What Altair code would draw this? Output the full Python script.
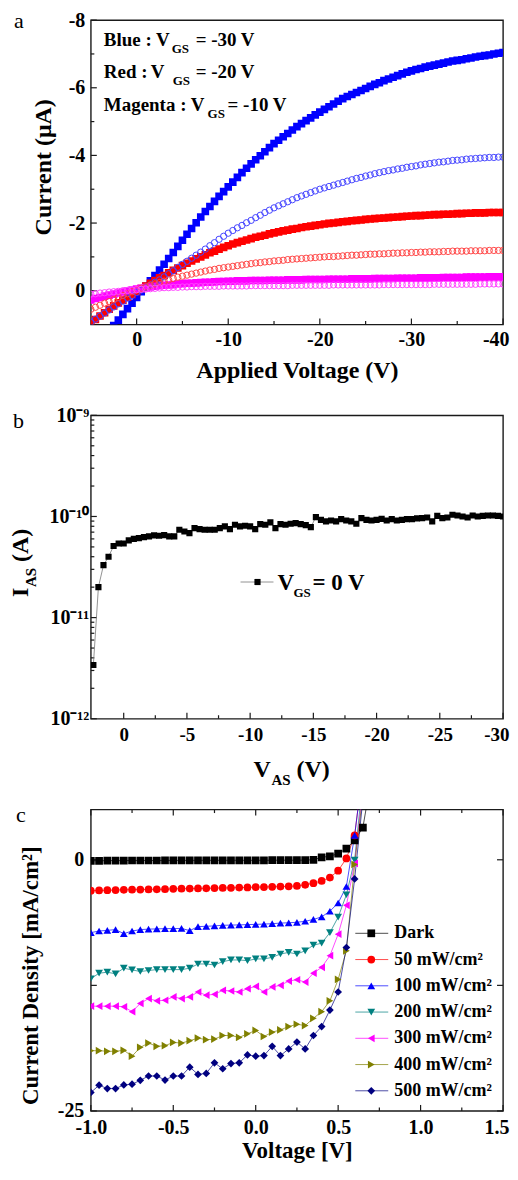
import altair as alt
import pandas as pd

FONT = "Liberation Serif"
INK = "#1a1a1a"

# ======================= Panel a data =======================
a_voltage = [round(5.0 - 0.5 * i, 1) for i in range(91)]  # 5 V ... -40 V

a_blue_filled = [
    1.90, 1.72, 1.55, 1.38, 1.20, 1.03, 0.87, 0.70, 0.53, 0.37,
    0.20, 0.03, -0.13, -0.29, -0.45, -0.61, -0.78, -0.95, -1.13, -1.31,
    -1.49, -1.67, -1.84, -2.01, -2.18, -2.34, -2.49, -2.64, -2.79, -2.93,
    -3.07, -3.21, -3.35, -3.49, -3.62, -3.75, -3.87, -3.99, -4.11, -4.23,
    -4.35, -4.45, -4.55, -4.65, -4.75, -4.85, -4.94, -5.03, -5.11, -5.20,
    -5.28, -5.36, -5.44, -5.52, -5.60, -5.68, -5.74, -5.80, -5.86, -5.92,
    -5.98, -6.04, -6.10, -6.15, -6.21, -6.26, -6.31, -6.36, -6.41, -6.46,
    -6.50, -6.54, -6.57, -6.61, -6.64, -6.67, -6.70, -6.73, -6.76, -6.79,
    -6.81, -6.83, -6.86, -6.88, -6.91, -6.93, -6.95, -6.97, -7.00, -7.02,
    -7.04]
a_blue_open = [
    0.93, 0.84, 0.75, 0.66, 0.57, 0.48, 0.39, 0.31, 0.22, 0.14,
    0.05, -0.02, -0.10, -0.17, -0.25, -0.32, -0.41, -0.50, -0.59, -0.69,
    -0.78, -0.87, -0.96, -1.05, -1.14, -1.23, -1.33, -1.42, -1.52, -1.61,
    -1.70, -1.78, -1.86, -1.93, -2.01, -2.08, -2.16, -2.23, -2.31, -2.38,
    -2.45, -2.51, -2.57, -2.63, -2.69, -2.75, -2.80, -2.85, -2.90, -2.95,
    -3.00, -3.04, -3.08, -3.12, -3.16, -3.20, -3.24, -3.28, -3.32, -3.35,
    -3.39, -3.42, -3.46, -3.49, -3.52, -3.55, -3.57, -3.60, -3.62, -3.65,
    -3.67, -3.69, -3.72, -3.74, -3.76, -3.78, -3.80, -3.81, -3.83, -3.85,
    -3.86, -3.87, -3.89, -3.90, -3.91, -3.92, -3.93, -3.94, -3.94, -3.95,
    -3.95]
a_red_filled = [
    0.95, 0.85, 0.75, 0.65, 0.55, 0.45, 0.36, 0.28, 0.19, 0.11,
    0.02, -0.06, -0.14, -0.22, -0.30, -0.38, -0.45, -0.53, -0.60, -0.67,
    -0.74, -0.81, -0.88, -0.94, -1.00, -1.06, -1.12, -1.17, -1.23, -1.28,
    -1.33, -1.38, -1.42, -1.46, -1.50, -1.54, -1.58, -1.61, -1.64, -1.68,
    -1.71, -1.74, -1.77, -1.79, -1.82, -1.84, -1.87, -1.89, -1.91, -1.93,
    -1.95, -1.97, -1.99, -2.00, -2.02, -2.04, -2.05, -2.07, -2.08, -2.09,
    -2.11, -2.12, -2.13, -2.14, -2.15, -2.16, -2.17, -2.18, -2.19, -2.20,
    -2.21, -2.22, -2.22, -2.23, -2.24, -2.25, -2.25, -2.26, -2.26, -2.27,
    -2.28, -2.28, -2.29, -2.29, -2.30, -2.30, -2.30, -2.31, -2.31, -2.31,
    -2.31]
a_red_open = [
    0.55, 0.49, 0.43, 0.37, 0.32, 0.26, 0.20, 0.14, 0.09, 0.03,
    -0.02, -0.07, -0.11, -0.16, -0.20, -0.24, -0.28, -0.32, -0.36, -0.40,
    -0.43, -0.46, -0.49, -0.52, -0.55, -0.58, -0.61, -0.63, -0.66, -0.68,
    -0.70, -0.72, -0.74, -0.76, -0.78, -0.80, -0.82, -0.83, -0.85, -0.86,
    -0.88, -0.89, -0.90, -0.92, -0.93, -0.94, -0.95, -0.96, -0.97, -0.98,
    -0.99, -1.00, -1.01, -1.01, -1.02, -1.03, -1.04, -1.05, -1.05, -1.06,
    -1.07, -1.08, -1.08, -1.09, -1.09, -1.10, -1.11, -1.11, -1.12, -1.12,
    -1.13, -1.13, -1.14, -1.14, -1.15, -1.15, -1.15, -1.16, -1.16, -1.17,
    -1.17, -1.17, -1.17, -1.18, -1.18, -1.18, -1.18, -1.19, -1.19, -1.19,
    -1.19]
a_magenta_filled = [
    0.27, 0.23, 0.20, 0.16, 0.13, 0.10, 0.07, 0.04, 0.01, -0.02,
    -0.05, -0.07, -0.09, -0.11, -0.13, -0.15, -0.16, -0.17, -0.18, -0.20,
    -0.21, -0.22, -0.22, -0.23, -0.24, -0.25, -0.25, -0.26, -0.27, -0.27,
    -0.28, -0.28, -0.29, -0.29, -0.29, -0.30, -0.30, -0.30, -0.30, -0.31,
    -0.31, -0.31, -0.31, -0.32, -0.32, -0.32, -0.32, -0.33, -0.33, -0.33,
    -0.33, -0.33, -0.34, -0.34, -0.34, -0.34, -0.34, -0.35, -0.35, -0.35,
    -0.35, -0.35, -0.36, -0.36, -0.36, -0.36, -0.36, -0.37, -0.37, -0.37,
    -0.37, -0.37, -0.38, -0.38, -0.38, -0.38, -0.38, -0.39, -0.39, -0.39,
    -0.39, -0.39, -0.40, -0.40, -0.40, -0.40, -0.40, -0.41, -0.41, -0.41,
    -0.41]
a_magenta_open = [
    0.10, 0.09, 0.07, 0.06, 0.04, 0.03, 0.02, 0.00, -0.01, -0.02,
    -0.03, -0.04, -0.05, -0.06, -0.07, -0.08, -0.09, -0.09, -0.10, -0.10,
    -0.11, -0.11, -0.12, -0.12, -0.12, -0.13, -0.13, -0.13, -0.13, -0.14,
    -0.14, -0.14, -0.14, -0.14, -0.14, -0.15, -0.15, -0.15, -0.15, -0.15,
    -0.15, -0.15, -0.15, -0.15, -0.16, -0.16, -0.16, -0.16, -0.16, -0.16,
    -0.16, -0.16, -0.16, -0.17, -0.17, -0.17, -0.17, -0.17, -0.17, -0.17,
    -0.17, -0.17, -0.17, -0.17, -0.18, -0.18, -0.18, -0.18, -0.18, -0.18,
    -0.18, -0.18, -0.18, -0.18, -0.18, -0.19, -0.19, -0.19, -0.19, -0.19,
    -0.19, -0.19, -0.19, -0.19, -0.19, -0.20, -0.20, -0.20, -0.20, -0.20,
    -0.20]

a_x_major = [0, -10, -20, -30, -40]
a_x_minor = [-5, -15, -25, -35]
a_y_major = [0, -2, -4, -6, -8]
a_y_minor = [-1, -3, -5, -7]

# ======================= Panel b data =======================
b_voltage = [round(2.4 - 0.4 * i, 1) for i in range(82)]  # 2.4 V ... -30 V
b_current_pA = [
    3.4, 20, 33, 40, 51, 54, 54, 58, 60, 61,
    62.5, 63.5, 65, 64.5, 65.4, 63.5, 63.5, 73.9, 71.1, 68.5,
    76.7, 75, 73.9, 73.9, 73.9, 76.7, 79.7, 75, 82.8, 79.7,
    80.9, 79.7, 75, 84, 82.8, 87.3, 76.7, 84, 82.8, 84.7,
    86, 84, 82.1, 78.5, 98.5, 92.7, 89.3, 91.3, 89.3, 94.1,
    91.3, 89.3, 84.7, 96.3, 92.7, 91.3, 92.7, 94.8, 91.3, 94.1,
    91.3, 92.7, 94.1, 94.1, 95.6, 96.3, 97.7, 89.3, 101.5, 96.3,
    97.7, 103.9, 102.3, 100, 97.7, 102.3, 100, 101.5, 102.3, 102.3,
    101.5, 100]

b_x_major = [0, -5, -10, -15, -20, -25, -30]
b_x_minor = [-2.5, -7.5, -12.5, -17.5, -22.5, -27.5]
b_y_major = [1e-12, 1e-11, 1e-10, 1e-9]
b_y_minor = [k * 10.0 ** e for e in (-12, -11, -10) for k in range(2, 10)]

# ======================= Panel c data =======================
c_voltage = [round(-1.0 + 0.05 * i, 2) for i in range(35)]  # -1.0 V ... 0.7 V
c_names = ["Dark", "50 mW/cm²", "100 mW/cm²", "200 mW/cm²",
           "300 mW/cm²", "400 mW/cm²", "500 mW/cm²"]
c_dark = [
    -0.10, -0.10, -0.08, -0.08, -0.08, -0.07, -0.07, -0.07, -0.07, -0.06,
    -0.06, -0.06, -0.06, -0.05, -0.05, -0.05, -0.05, -0.05, -0.05, -0.05,
    -0.05, -0.05, -0.04, -0.04, -0.04, -0.04, -0.03, 0.00, 0.25, 0.35,
    0.62, 1.10, 1.94, 3.20, 8.0]
c_50 = [
    -3.08, -3.05, -3.03, -3.01, -2.99, -2.98, -2.96, -2.95, -2.94, -2.92,
    -2.89, -2.88, -2.87, -2.85, -2.84, -2.82, -2.80, -2.79, -2.77, -2.75,
    -2.72, -2.71, -2.69, -2.67, -2.64, -2.60, -2.49, -2.33, -2.10, -1.77,
    -1.08, 0.13, 2.43, 9.0]
c_100 = [
    -7.25, -7.09, -7.02, -6.95, -7.35, -7.09, -6.95, -6.90, -6.88, -6.85,
    -6.85, -6.83, -7.05, -6.65, -6.62, -6.58, -6.52, -6.50, -6.48, -6.45,
    -6.43, -6.40, -6.36, -6.30, -6.27, -6.22, -6.12, -5.94, -5.68, -5.12,
    -4.30, -2.66, 2.43, 9.0]
c_200 = [
    -11.84, -11.29, -11.19, -11.35, -10.79, -10.96, -11.12, -11.02, -10.93, -10.93,
    -10.93, -10.93, -10.79, -10.37, -10.37, -10.47, -10.14, -9.97, -9.97, -10.04,
    -9.87, -9.87, -9.71, -9.38, -9.22, -9.38, -9.06, -8.50, -8.30, -7.25,
    -5.71, -3.48, -0.03, 8.0]
c_300 = [
    -14.57, -14.57, -14.57, -14.57, -14.63, -15.12, -14.30, -13.81, -14.04, -13.98,
    -13.65, -13.81, -13.65, -13.16, -13.48, -13.39, -12.99, -13.06, -13.16, -12.83,
    -12.60, -13.16, -12.66, -12.50, -12.07, -11.94, -12.17, -11.29, -10.70, -9.55,
    -7.41, -4.53, -0.36, 7.0]
c_400 = [
    -19.00, -19.00, -19.06, -19.06, -18.96, -19.55, -18.67, -18.24, -18.57, -18.50,
    -18.18, -18.24, -18.01, -17.75, -17.91, -17.85, -17.49, -17.49, -17.68, -17.32,
    -16.99, -17.59, -17.16, -16.93, -16.60, -16.37, -16.50, -15.78, -15.12, -14.04,
    -11.91, -9.06, -0.46, 6.5]
c_500 = [
    -23.16, -22.44, -22.77, -22.77, -22.41, -22.34, -21.95, -21.52, -21.52, -21.92,
    -21.52, -21.52, -20.64, -21.36, -21.26, -20.21, -20.80, -20.28, -20.21, -19.42,
    -19.55, -19.49, -18.57, -19.49, -18.83, -18.14, -18.83, -17.49, -16.60, -14.96,
    -13.16, -8.73, -1.90, 6.0]

c_x_major = [-1.0, -0.5, 0.0, 0.5, 1.0, 1.5]
c_x_minor = [-0.75, -0.25, 0.25, 0.75, 1.25]
c_y_major = [0, -12.5, -25]


# ======================= helpers =======================
def long_df(xs, series, xname="V", yname="I", key="series"):
    rows = []
    for name, ys in series.items():
        for x, y in zip(xs, ys):
            rows.append({xname: x, yname: y, key: name})
    return pd.DataFrame(rows)


def axis(**kw):
    base = dict(labelFont=FONT, labelFontWeight="bold", labelColor="black",
                titleFont=FONT, titleFontWeight="bold", titleColor="black",
                ticks=False, tickSize=0, domain=False, grid=False,
                labelOverlap=False, labelFlush=False)
    base.update(kw)
    return alt.Axis(**base)


def last_label_align(test):
    # the label sitting on the right frame edge is kept inside the page
    return dict(
        labelAlign={"condition": {"test": test, "value": "right"}, "value": "center"},
        labelOffset={"condition": {"test": test, "value": 6}, "value": 0},
    )


ONE = pd.DataFrame({"k": [0]})


def text_piece(txt, x, y, size, weight="bold", angle=0):
    return alt.Chart(ONE).mark_text(
        align="left", baseline="alphabetic", font=FONT, fontSize=size,
        fontWeight=weight, angle=angle, color="black"
    ).encode(x=alt.value(x), y=alt.value(y), text=alt.value(txt))


def ticks_bottom(vals, xenc, h, length):
    return alt.Chart(pd.DataFrame({"V": vals})).mark_rule(color=INK, strokeWidth=1.2).encode(
        x=xenc, y=alt.value(h), y2=alt.value(h - length))


def ticks_top(vals, xenc, length):
    return alt.Chart(pd.DataFrame({"V": vals})).mark_rule(color=INK, strokeWidth=1.2).encode(
        x=xenc, y=alt.value(0), y2=alt.value(length))


def ticks_left(vals, yenc, length):
    return alt.Chart(pd.DataFrame({"I": vals})).mark_rule(color=INK, strokeWidth=1.2).encode(
        y=yenc, x=alt.value(0), x2=alt.value(length))


def ticks_right(vals, yenc, w, length):
    return alt.Chart(pd.DataFrame({"I": vals})).mark_rule(color=INK, strokeWidth=1.2).encode(
        y=yenc, x=alt.value(w), x2=alt.value(w - length))


# ======================= Panel a =======================
AW, AH = 413, 305
xa = alt.X("V:Q", scale=alt.Scale(domain=[5, -40], nice=False, zero=False),
           axis=axis(values=a_x_major, labelExpr="'' + datum.value", labelFontSize=20,
                     labelPadding=5, title="Applied Voltage (V)", titleFontSize=24,
                     titleY=53, titleBaseline="alphabetic",
                     **last_label_align("datum.value <= -40")))
ya = alt.Y("I:Q", scale=alt.Scale(domain=[1, -8], nice=False, zero=False),
           axis=axis(values=a_y_major, labelExpr="'' + datum.value", labelFontSize=20,
                     labelPadding=6, title="Current (μA)", titleFontSize=24,
                     titleX=-40, titleY=147, titleAngle=270, titleBaseline="alphabetic"))

a_all_names = ["-30 V filled", "-30 V open", "-20 V filled", "-20 V open",
               "-10 V filled", "-10 V open"]
a_colors = ["#0000ff", "#4646ff", "#ff0000", "#ff4646", "#ff00ff", "#ff46ff"]
a_color = alt.Color("trace:N", scale=alt.Scale(domain=a_all_names, range=a_colors), legend=None)

df_a_filled = long_df(a_voltage, {"-30 V filled": a_blue_filled,
                                  "-20 V filled": a_red_filled,
                                  "-10 V filled": a_magenta_filled}, key="trace")
df_a_open = long_df(a_voltage, {"-30 V open": a_blue_open,
                                "-20 V open": a_red_open,
                                "-10 V open": a_magenta_open}, key="trace")

a_filled = alt.Chart(df_a_filled).mark_point(
    shape="square", filled=True, size=58, opacity=1, clip=True).encode(x=xa, y=ya, color=a_color)
a_open = alt.Chart(df_a_open).mark_point(
    shape="circle", filled=False, size=40, strokeWidth=1, opacity=1, clip=True).encode(x=xa, y=ya, color=a_color)

a_texts = [
    text_piece("Blue : V", 13, 26, 19), text_piece("GS", 81, 33, 13), text_piece("= -30 V", 105, 26, 19),
    text_piece("Red :", 13, 58, 19), text_piece("V", 60, 58, 19), text_piece("GS", 82, 65, 13),
    text_piece("= -20 V", 105, 58, 19),
    text_piece("Magenta : V", 13, 91, 19), text_piece("GS", 117, 98, 13), text_piece("= -10 V", 137, 91, 19),
    text_piece("a", -77, 8, 22, weight="normal"),
]

panel_a = alt.layer(
    ticks_bottom(a_x_major, xa, AH, 6), ticks_bottom(a_x_minor, xa, AH, 3.5),
    ticks_left(a_y_major, ya, 6), ticks_left(a_y_minor, ya, 3.5),
    a_filled, a_open, *a_texts
).properties(width=AW, height=AH)

# ======================= Panel b =======================
BW, BH = 413, 304
b_label_expr = ("datum.value > 5e-10 ? '10⁻⁹' : datum.value > 5e-11 ? '10⁻¹⁰' : "
                "datum.value > 5e-12 ? '10⁻¹¹' : '10⁻¹²'")
xb = alt.X("V:Q", scale=alt.Scale(domain=[2.6, -30], nice=False, zero=False),
           axis=axis(values=b_x_major, labelExpr="'' + datum.value", labelFontSize=19,
                     labelPadding=7, title=None, **last_label_align("datum.value <= -30")))
yb = alt.Y("I:Q", scale=alt.Scale(type="log", domain=[1e-12, 1e-9], nice=False),
           axis=axis(values=b_y_major, labelExpr=b_label_expr, labelFontSize=20,
                     labelPadding=2, title=None))

df_b = pd.DataFrame({"V": b_voltage, "I": [v * 1e-12 for v in b_current_pA]})
b_line = alt.Chart(df_b).mark_line(color="#777777", strokeWidth=0.8, clip=True).encode(x=xb, y=yb)
b_pts = alt.Chart(df_b).mark_point(shape="square", filled=True, size=38, color="black",
                                   opacity=1, clip=True).encode(x=xb, y=yb)

b_leg_line = alt.Chart(ONE).mark_rule(color="#777777", strokeWidth=0.8).encode(
    x=alt.value(150), x2=alt.value(183), y=alt.value(167))
b_leg_pt = alt.Chart(ONE).mark_point(shape="square", filled=True, size=38, color="black", opacity=1).encode(
    x=alt.value(167), y=alt.value(167))

b_texts = [
    text_piece("V", 187, 175, 23), text_piece("GS", 203, 182, 13), text_piece("= 0 V", 222, 175, 23),
    # x-axis title  V_AS (V)
    text_piece("V", 163, 362, 24), text_piece("AS", 181, 370, 15), text_piece("(V)", 206, 362, 24),
    # y-axis title  I_AS (A), rotated
    text_piece("I", -63, 182, 24, angle=270), text_piece("AS", -55, 172, 15, angle=270),
    text_piece("(A)", -63, 147, 24, angle=270),
    text_piece("b", -78, 13, 22, weight="normal"),
]

panel_b = alt.layer(
    ticks_bottom(b_x_major, xb, BH, 6), ticks_bottom(b_x_minor, xb, BH, 3.5),
    ticks_left(b_y_major, yb, 6), ticks_left(b_y_minor, yb, 3.5),
    b_line, b_pts, b_leg_line, b_leg_pt, *b_texts
).properties(width=BW, height=BH)

# ======================= Panel c =======================
CW, CH = 413, 302
c_x_axis = axis(values=c_x_major, labelExpr="replace(format(datum.value, '.1f'), '\u2212', '-')",
                labelFontSize=20, labelPadding=7, title="Voltage [V]", titleFontSize=23,
                titleY=47, titleBaseline="alphabetic", **last_label_align("datum.value >= 1.5"))
c_x_scale = alt.Scale(domain=[-1.0, 1.5], nice=False, zero=False)


def xc(field):
    return alt.X(f"{field}:Q", scale=c_x_scale, axis=c_x_axis)


yc = alt.Y("I:Q", scale=alt.Scale(domain=[-25, 5], nice=False, zero=False),
           axis=axis(values=[0, -25], labelExpr="'' + datum.value", labelFontSize=20,
                     labelPadding=7, title="Current Density [mA/cm²]", titleFontSize=23,
                     titleX=-53, titleY=166, titleAngle=270, titleBaseline="alphabetic"))

c_colors = ["#000000", "#ff0000", "#0000ff", "#008080", "#ff00ff", "#808000", "#000080"]
c_shapes = ["square", "circle", "triangle-up", "triangle-down", "triangle-left",
            "triangle-right", "diamond"]
c_color = alt.Color("series:N", scale=alt.Scale(domain=c_names, range=c_colors), legend=None)
c_shape = alt.Shape("series:N", scale=alt.Scale(domain=c_names, range=c_shapes), legend=None)

df_c = long_df(c_voltage, dict(zip(c_names, [c_dark, c_50, c_100, c_200, c_300, c_400, c_500])))

c_lines = alt.Chart(df_c).mark_line(strokeWidth=1, opacity=0.7, clip=True).encode(
    x=xc("V"), y=yc, color=c_color)
c_pts = alt.Chart(df_c).mark_point(filled=True, size=60, opacity=1, clip=True).encode(
    x=xc("V"), y=yc, color=c_color, shape=c_shape)


# legend placed inside the plot (layout positions converted to data units)
def c_xd(px):
    return -1.0 + px * 2.5 / CW


def c_yd(px):
    return 5.0 - px * 30.0 / CH


leg = pd.DataFrame({"series": c_names})
leg["I"] = [c_yd(124 + 26.3 * i) for i in range(len(c_names))]
leg["V"] = c_xd(281)
leg["V0"] = c_xd(265)
leg["V2"] = c_xd(298)
leg["Vt"] = c_xd(304)

c_leg_lines = alt.Chart(leg).mark_rule(strokeWidth=1, opacity=0.7).encode(
    x=xc("V0"), x2="V2:Q", y=yc, color=c_color)
c_leg_pts = alt.Chart(leg).mark_point(filled=True, size=60, opacity=1).encode(
    x=xc("V"), y=yc, color=c_color, shape=c_shape)
c_leg_txt = alt.Chart(leg).mark_text(align="left", baseline="middle", font=FONT, fontSize=18,
                                     fontWeight="bold", color="black").encode(
    x=xc("Vt"), y=yc, text="series:N")

panel_c = alt.layer(
    ticks_bottom(c_x_major, xc("V"), CH, 6), ticks_bottom(c_x_minor, xc("V"), CH, 3.5),
    ticks_top(c_x_major, xc("V"), 6), ticks_top(c_x_minor, xc("V"), 3.5),
    ticks_left(c_y_major, yc, 6), ticks_right(c_y_major, yc, CW, 6),
    c_lines, c_pts, c_leg_lines, c_leg_pts, c_leg_txt,
    text_piece("c", -75, 12, 22, weight="normal"),
).properties(width=CW, height=CH)

chart = alt.vconcat(panel_a, panel_b, panel_c, spacing=91, bounds="flush").resolve_scale(
    color="independent", shape="independent"
).properties(
    padding={"left": 0, "top": 0, "right": 0, "bottom": 0}
).configure(font=FONT).configure_view(stroke=INK, strokeWidth=1.4)

chart.save("out.html", embed_options={"renderer": "svg", "actions": False})
